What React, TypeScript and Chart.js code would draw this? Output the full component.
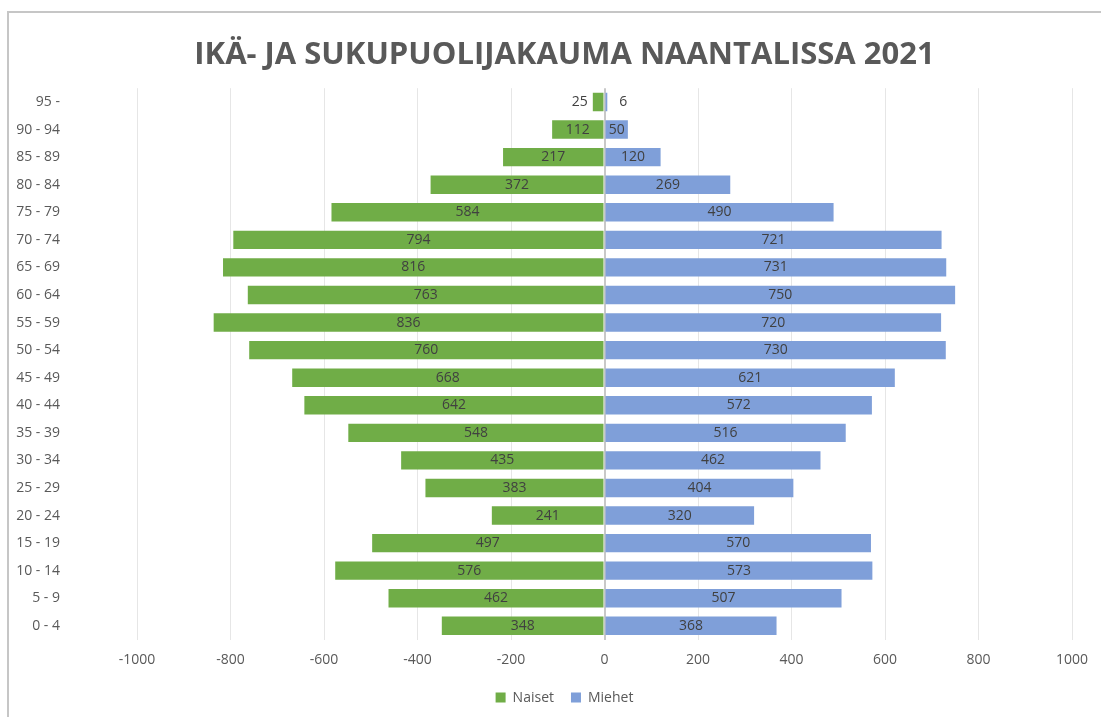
import React, { useEffect, useRef } from "react";
import { Chart, registerables } from "chart.js";

Chart.register(...registerables);

const ageGroups = [
  "95 -", "90 - 94", "85 - 89", "80 - 84", "75 - 79", "70 - 74", "65 - 69",
  "60 - 64", "55 - 59", "50 - 54", "45 - 49", "40 - 44", "35 - 39", "30 - 34",
  "25 - 29", "20 - 24", "15 - 19", "10 - 14", "5 - 9", "0 - 4",
];
const naiset = [25, 112, 217, 372, 584, 794, 816, 763, 836, 760, 668, 642, 548, 435, 383, 241, 497, 576, 462, 348];
const miehet = [6, 50, 120, 269, 490, 721, 731, 750, 720, 730, 621, 572, 516, 462, 404, 320, 570, 573, 507, 368];
const xTicks = [-1000, -800, -600, -400, -200, 0, 200, 400, 600, 800, 1000];

const titleText = "IKÄ- JA SUKUPUOLIJAKAUMA NAANTALISSA 2021";
const FONT = "'Open Sans', 'Noto Sans', sans-serif";

const framePlugin = {
  id: "frame",
  afterLayout(chart: any) {
    // widen the category axis box to the left so its labels are not clipped
    const y = chart.scales.y;
    if (y) {
      y.left = 0;
      y.width = y.right;
    }
    const lg = chart.legend;
    if (lg) {
      lg.top += 5;
      lg.bottom += 5;
    }
  },
  beforeDraw(chart: any) {
    const ctx = chart.ctx;
    ctx.save();
    ctx.strokeStyle = "#C6C6C6";
    ctx.lineWidth = 2;
    ctx.beginPath();
    ctx.moveTo(8, chart.height);
    ctx.lineTo(8, 12);
    ctx.lineTo(chart.width, 12);
    ctx.stroke();
    ctx.restore();
  },
};

const labelPlugin = {
  id: "barLabels",
  afterDatasetsDraw(chart: any) {
    const ctx = chart.ctx;
    ctx.save();
    ctx.font = `14px ${FONT}`;
    ctx.fillStyle = "#404040";
    ctx.textBaseline = "middle";
    chart.data.datasets.forEach((ds: any, di: number) => {
      const meta = chart.getDatasetMeta(di);
      meta.data.forEach((bar: any, i: number) => {
        const v = ds.data[i];
        const text = String(Math.abs(v));
        const tw = ctx.measureText(text).width;
        const w = Math.abs(bar.x - bar.base);
        if (w > tw + 4) {
          ctx.textAlign = "center";
          ctx.fillText(text, (bar.x + bar.base) / 2, bar.y);
        } else if (v < 0) {
          ctx.textAlign = "right";
          ctx.fillText(text, bar.x - 5, bar.y);
        } else {
          ctx.textAlign = "left";
          ctx.fillText(text, bar.x + 12, bar.y);
        }
      });
    });
    ctx.restore();
  },
};

export default function App() {
  const ref = useRef<HTMLCanvasElement>(null);
  useEffect(() => {
    if (!ref.current) return;
    const chart = new Chart(ref.current, {
      type: "bar",
      data: {
        labels: ageGroups,
        datasets: [
          {
            label: "Naiset",
            data: naiset.map((v) => -v),
            backgroundColor: "#70AD47",
            borderWidth: 0,
            barPercentage: 0.667,
            categoryPercentage: 1,
          },
          {
            label: "Miehet",
            data: miehet,
            backgroundColor: "#7F9FD9",
            borderWidth: 0,
            barPercentage: 0.667,
            categoryPercentage: 1,
          },
        ],
      },
      options: {
        indexAxis: "y",
        responsive: false,
        animation: false,
        devicePixelRatio: 1,
        layout: { padding: { left: 57, right: 29, top: 0, bottom: 0 } },
        scales: {
          x: {
            stacked: true,
            min: -1000,
            max: 1000,
            afterBuildTicks: (scale: any) => {
              scale.ticks = xTicks.map((v) => ({ value: v }));
            },
            afterFit: (scale: any) => {
              scale.height = 29;
            },
            ticks: {
              callback: (v: any) => String(v),
              color: "#595959",
              font: { family: FONT, size: 14 },
              padding: 12,
            },
            grid: {
              drawTicks: false,
              color: (c: any) => (c.tick && c.tick.value === 0 ? "#C8C8C8" : "#E6E6E6"),
              lineWidth: (c: any) => (c.tick && c.tick.value === 0 ? 2 : 1),
            },
            border: { display: false },
          },
          y: {
            stacked: true,
            afterFit: (scale: any) => {
              scale.width = 80;
            },
            ticks: {
              color: "#595959",
              font: { family: FONT, size: 14 },
              padding: 69,
            },
            grid: { display: false },
            border: { display: false },
          },
        },
        plugins: {
          title: {
            display: true,
            text: titleText,
            color: "#595959",
            font: { family: FONT, size: 31, weight: "bold", lineHeight: 1.2 },
            padding: { top: 37, bottom: 14 },
          },
          legend: {
            position: "bottom",
            labels: {
              boxWidth: 10,
              boxHeight: 10,
              color: "#595959",
              font: { family: FONT, size: 14 },
              padding: 17,
            },
          },
          tooltip: { enabled: false },
        },
      },
      plugins: [framePlugin, labelPlugin],
    } as any);
    return () => chart.destroy();
  }, []);
  return (
    <div style={{ position: "fixed", left: 0, top: 0, width: 1101, height: 717, background: "#fff" }}>
      <canvas ref={ref} width={1101} height={717} />
    </div>
  );
}
